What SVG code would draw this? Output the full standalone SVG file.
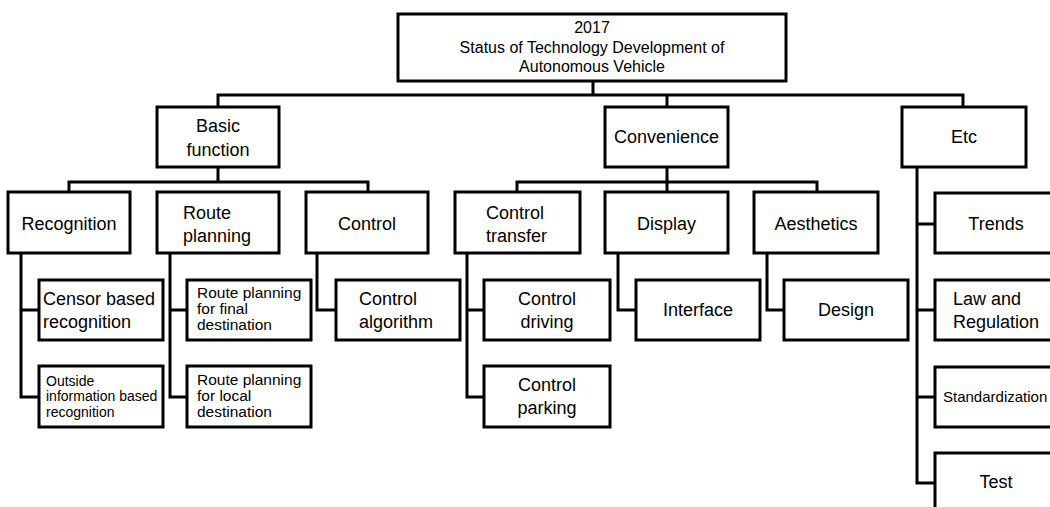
<svg xmlns="http://www.w3.org/2000/svg" width="1050" height="507" viewBox="0 0 1050 507">
<style>
.b{fill:#fff;stroke:#000;stroke-width:3}
.c{fill:none;stroke:#000;stroke-width:3;stroke-linejoin:miter}
text{font-family:"Liberation Sans",Arial,sans-serif;fill:#000}
.t18{font-size:18px}
.m{text-anchor:middle}
.t16{font-size:16px}
.t15{font-size:15.5px}
.t14{font-size:14px}
</style>
<rect width="1050" height="507" fill="#fff"/>
<g id="connectors">
<path class="c" d="M593,81V95M218,107V95H963V107M667,95V107"/>
<path class="c" d="M218,167V182M69,192V182H368V192"/>
<path class="c" d="M667,167V182M517,192V182H817V192M667,182V192"/>
<path class="c" d="M21,253V397H39M21,310H39"/>
<path class="c" d="M170,253V397H187M170,310H187"/>
<path class="c" d="M317,253V310H336"/>
<path class="c" d="M467,253V397H484M467,310H484"/>
<path class="c" d="M618,253V310H636"/>
<path class="c" d="M767,253V310H784"/>
<path class="c" d="M917,167V483H935M917,224H935M917,310H935M917,397H935"/>
</g>
<g id="root"><rect class="b" x="398" y="14" width="388" height="67"/>
<text class="t16 m" x="592" y="33">2017</text>
<text class="t16 m" x="592" y="53">Status of Technology Development of</text>
<text class="t16 m" x="592" y="72">Autonomous Vehicle</text></g>
<g id="basic"><rect class="b" x="157" y="107" width="122" height="60"/>
<text class="t18 m" x="218" y="132">Basic</text><text class="t18 m" x="218" y="156">function</text></g>
<g id="convenience"><rect class="b" x="605" y="107" width="123" height="60"/>
<text class="t18 m" x="666.5" y="143">Convenience</text></g>
<g id="etc"><rect class="b" x="902" y="107" width="124" height="60"/>
<text class="t18 m" x="964" y="143">Etc</text></g>
<g id="recognition"><rect class="b" x="8" y="192" width="122" height="61"/>
<text class="t18 m" x="69" y="230">Recognition</text></g>
<g id="route"><rect class="b" x="157" y="192" width="122" height="61"/>
<text class="t18" x="183" y="219">Route</text><text class="t18" x="183" y="242">planning</text></g>
<g id="control"><rect class="b" x="306" y="192" width="122" height="61"/>
<text class="t18 m" x="367" y="230">Control</text></g>
<g id="ctransfer"><rect class="b" x="455" y="192" width="125" height="61"/>
<text class="t18" x="486" y="219">Control</text><text class="t18" x="486" y="242">transfer</text></g>
<g id="display"><rect class="b" x="605" y="192" width="123" height="61"/>
<text class="t18 m" x="666.5" y="230">Display</text></g>
<g id="aesthetics"><rect class="b" x="754" y="192" width="124" height="61"/>
<text class="t18 m" x="816" y="230">Aesthetics</text></g>
<g id="censor"><rect class="b" x="39" y="280" width="124" height="60"/>
<text class="t18" x="43" y="305">Censor based</text><text class="t18" x="43" y="328">recognition</text></g>
<g id="outside"><rect class="b" x="39" y="366" width="124" height="61"/>
<text class="t14" x="46" y="386">Outside</text><text class="t14" x="46" y="401">information based</text><text class="t14" x="46" y="417">recognition</text></g>
<g id="rfinal"><rect class="b" x="187" y="280" width="124" height="60"/>
<text class="t15" x="197" y="298">Route planning</text><text class="t15" x="197" y="314">for final</text><text class="t15" x="197" y="330">destination</text></g>
<g id="rlocal"><rect class="b" x="187" y="366" width="124" height="61"/>
<text class="t15" x="197" y="385">Route planning</text><text class="t15" x="197" y="401">for local</text><text class="t15" x="197" y="417">destination</text></g>
<g id="calgo"><rect class="b" x="336" y="280" width="124" height="60"/>
<text class="t18" x="359" y="305">Control</text><text class="t18" x="359" y="328">algorithm</text></g>
<g id="cdriving"><rect class="b" x="484" y="280" width="126" height="60"/>
<text class="t18 m" x="547" y="305">Control</text><text class="t18 m" x="547" y="328">driving</text></g>
<g id="cparking"><rect class="b" x="484" y="366" width="126" height="61"/>
<text class="t18 m" x="547" y="391">Control</text><text class="t18 m" x="547" y="414">parking</text></g>
<g id="interface"><rect class="b" x="636" y="280" width="124" height="60"/>
<text class="t18 m" x="698" y="316">Interface</text></g>
<g id="design"><rect class="b" x="784" y="280" width="124" height="60"/>
<text class="t18 m" x="846" y="316">Design</text></g>
<g id="trends"><rect class="b" x="935" y="193" width="124" height="60"/>
<text class="t18 m" x="996" y="230">Trends</text></g>
<g id="law"><rect class="b" x="935" y="280" width="124" height="60"/>
<text class="t18" x="953" y="305">Law and</text><text class="t18" x="953" y="328">Regulation</text></g>
<g id="standard"><rect class="b" x="935" y="367" width="124" height="60"/>
<text class="t15" x="943" y="402" style="font-size:15px">Standardization</text></g>
<g id="test"><rect class="b" x="935" y="453" width="124" height="70"/>
<text class="t18 m" x="996" y="488">Test</text></g>
</svg>
